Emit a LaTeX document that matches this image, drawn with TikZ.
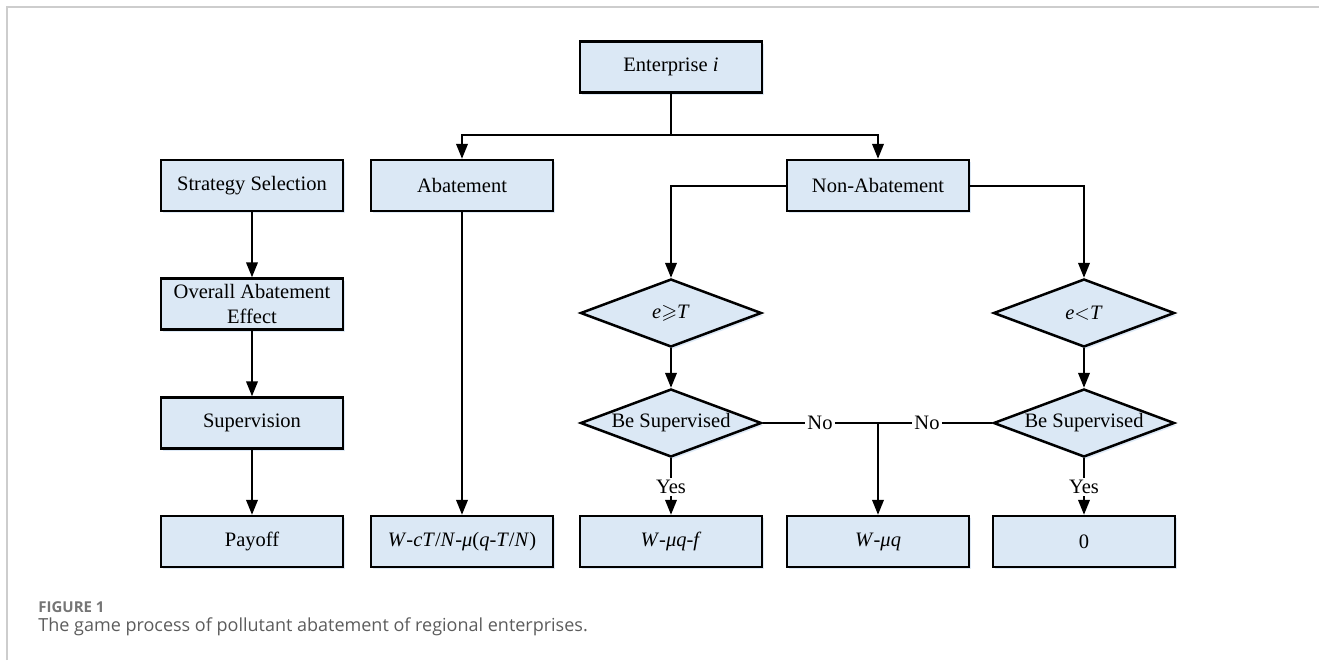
\documentclass[tikz,border=0pt]{standalone}
\usepackage{fontspec}
\setmainfont{Liberation Serif}
\newfontfamily\capfont{Open Sans}
\usepackage{amssymb}
\usepackage{tikz}
\usetikzlibrary{arrows.meta}
\usetikzlibrary{shapes.geometric}
\usetikzlibrary{shadows}
\definecolor{boxblue}{RGB}{219,232,245}
\definecolor{glowblue}{RGB}{200,220,242}
\definecolor{framegray}{RGB}{205,205,205}
\definecolor{capgray}{RGB}{92,92,92}
\tikzset{>={Triangle[length = 7.5pt, width = 5.8pt]}}
\tikzstyle{box} = [rectangle, draw = black, line width = 1.25pt, fill = boxblue, minimum width = 91pt, minimum height = 25.5pt, inner sep = 1pt, align = center, font = \fontsize{10.25}{12.5}\selectfont, drop shadow = {fill = glowblue, opacity = 0.6, shadow xshift = 1pt, shadow yshift = -1.2pt}]
\tikzstyle{decision} = [diamond, draw = black, line width = 1.25pt, fill = boxblue, aspect = 2.66, minimum width = 90.5pt, minimum height = 34pt, inner sep = 0pt, font = \fontsize{10.25}{12.5}\selectfont, drop shadow = {fill = glowblue, opacity = 0.6, shadow xshift = 1pt, shadow yshift = -1.2pt}]
\tikzstyle{lbl} = [draw = none, inner sep = 1pt, font = \fontsize{10.25}{12.5}\selectfont]
\tikzstyle{conn} = [->, draw = black, line width = 1pt]
\tikzstyle{line} = [-, draw = black, line width = 1pt]

\begin{document}
\begin{tikzpicture}[x = 0.5pt, y = -0.5pt]
\useasboundingbox (0, 0) rectangle (1319, 660);
\draw [framegray, line width = 1pt] (6.7, 660) -- (6.7, 7.3) -- (1319, 7.3);

% top
\node [box](ent) at (671, 67) {Enterprise \textit{i}};
\coordinate (split) at (671, 135);

% left column
\node [box](ss) at (252, 185.5) {Strategy Selection};
\node [box](oa) at (252, 304) {Overall Abatement\\Effect};
\node [box](sv) at (252, 423) {Supervision};
\node [box](po) at (252, 541.5) {Payoff};

% strategies
\node [box](ab) at (462, 185.5) {Abatement};
\node [box](na) at (878, 185.5) {Non-Abatement};
\node [decision](ge) at (671, 313) {\textit{e}$\geqslant$\textit{T}};
\node [decision](lt) at (1084, 313) {\textit{e}$<$\textit{T}};
\node [decision](bs1) at (671, 423) {Be Supervised};
\node [decision](bs2) at (1084, 423) {Be Supervised};
\node [lbl](no1) at (820, 423) {No};
\node [lbl](no2) at (927, 423) {No};
\coordinate (junc) at (878, 423);
\node [lbl](yes1) at (671, 487) {Yes};
\node [lbl](yes2) at (1084, 487) {Yes};

% payoffs
\node [box](w1) at (462, 541.5) {\textit{W}-\textit{cT}/\textit{N}-\textit{μ}(\textit{q}-\textit{T}/\textit{N})};
\node [box](w2) at (671, 541.5) {\textit{W}-\textit{μq}-\textit{f}};
\node [box](w3) at (878, 541.5) {\textit{W}-\textit{μq}};
\node [box](w4) at (1084, 541.5) {0};

\draw [line] (ent) to (split);
\draw [conn] (split) -| (ab);
\draw [conn] (split) -| (na);
\draw [conn] (ss) to (oa);
\draw [conn] (oa) to (sv);
\draw [conn] (sv) to (po);
\draw [conn] (ab) to (w1);
\draw [conn] (na.west) -| (ge);
\draw [conn] (na.east) -| (lt);
\draw [conn] (ge) to (bs1);
\draw [conn] (lt) to (bs2);
\draw [line] (bs1) to (no1);
\draw [line] (no1) -- (junc) -- (no2);
\draw [line] (no2) to (bs2);
\draw [conn] (junc) to (w3);
\draw [line] (bs1) to (yes1);
\draw [conn] (yes1) to (w2);
\draw [line] (bs2) to (yes2);
\draw [conn] (yes2) to (w4);

% caption
\node [anchor = west, inner sep = 0, text = capgray!85, font = \capfont\bfseries\fontsize{7.5}{9}\selectfont](fig) at (38, 607) {FIGURE 1};
\node [anchor = west, inner sep = 0, text = capgray, font = \capfont\fontsize{9}{11}\selectfont](cap) at (38, 627) {The game process of pollutant abatement of regional enterprises.};
\end{tikzpicture}
\end{document}
